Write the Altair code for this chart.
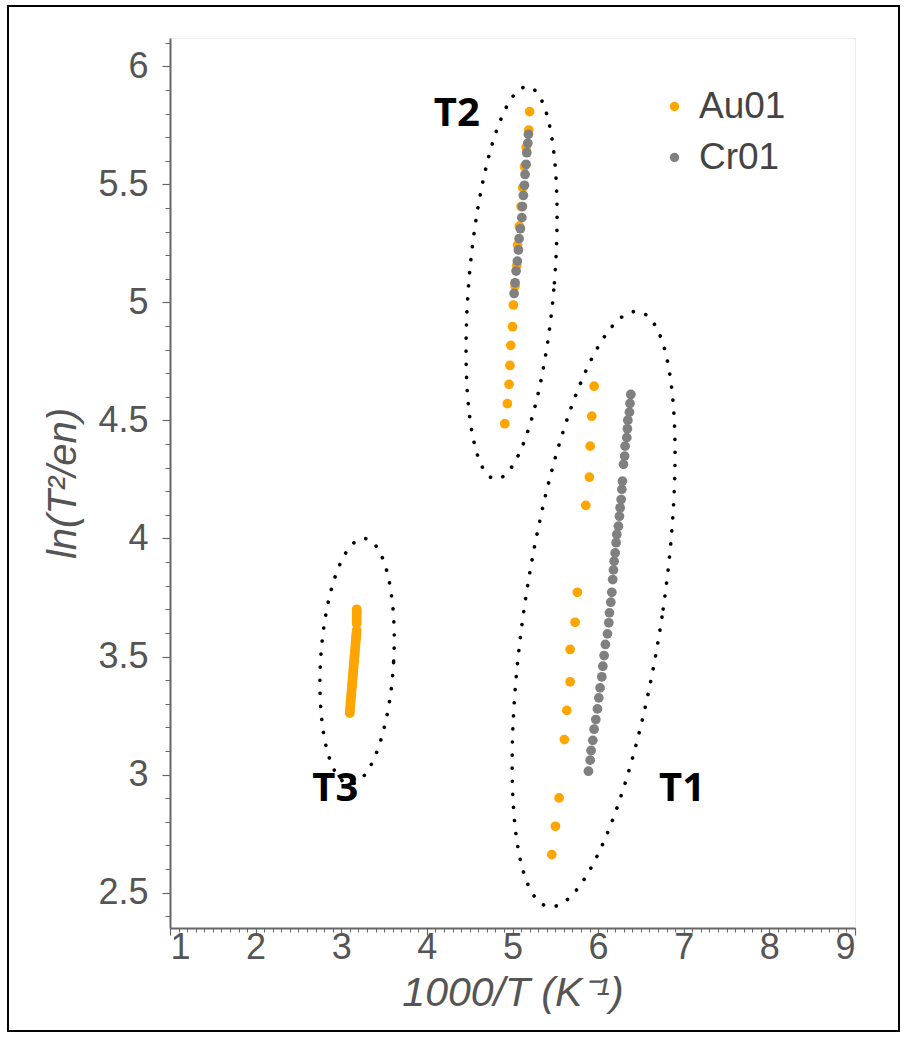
import altair as alt
import pandas as pd
import numpy as np

# ---------------- data ----------------
# Au01 (orange)
au_t2_x = [5.20, 5.19, 5.16, 5.14, 5.12, 5.10, 5.08, 5.06, 5.05, 5.03, 5.01, 5.00, 4.98, 4.97, 4.96, 4.94, 4.91]
au_t2_y = [5.808, 5.730, 5.656, 5.575, 5.486, 5.406, 5.323, 5.243, 5.157, 5.069, 4.989, 4.897, 4.818, 4.733, 4.653, 4.571, 4.486]

au_t1_x = [5.953, 5.926, 5.907, 5.898, 5.856, 5.758, 5.731, 5.673, 5.673, 5.634, 5.606, 5.544, 5.501, 5.459]
au_t1_y = [4.645, 4.518, 4.391, 4.260, 4.140, 3.772, 3.645, 3.530, 3.393, 3.272, 3.148, 2.901, 2.781, 2.661]

au_t3_x = [3.181, 3.181, 3.180, 3.180, 3.180, 3.180, 3.180,
           3.180, 3.178, 3.175, 3.173, 3.171, 3.168, 3.166, 3.164, 3.161, 3.159,
           3.157, 3.154, 3.152, 3.150, 3.147, 3.145, 3.143, 3.140, 3.138, 3.136,
           3.133, 3.131, 3.129, 3.126, 3.124, 3.122, 3.119, 3.117, 3.115, 3.112,
           3.110, 3.108, 3.105, 3.103, 3.101, 3.100]
au_t3_y = [3.70, 3.69, 3.68, 3.67, 3.66, 3.65, 3.64,
           3.61, 3.60, 3.59, 3.58, 3.57, 3.56, 3.55, 3.54, 3.53, 3.52,
           3.51, 3.50, 3.49, 3.48, 3.47, 3.46, 3.45, 3.44, 3.43, 3.42,
           3.41, 3.40, 3.39, 3.38, 3.37, 3.36, 3.35, 3.34, 3.33, 3.32,
           3.31, 3.30, 3.29, 3.28, 3.27, 3.26]

# Cr01 (grey)
cr_t2_x = [5.186, 5.179, 5.167, 5.159, 5.147, 5.139, 5.127, 5.116, 5.109, 5.092, 5.077, 5.069, 5.057, 5.042, 5.030, 5.019]
cr_t2_y = [5.712, 5.674, 5.634, 5.585, 5.542, 5.496, 5.453, 5.406, 5.359, 5.312, 5.270, 5.222, 5.175, 5.133, 5.083, 5.038]

cr_t1_x = [6.382, 6.372, 6.366, 6.347, 6.342, 6.335, 6.315, 6.310, 6.296,
           6.284, 6.277, 6.269, 6.257, 6.249, 6.237, 6.218, 6.210, 6.199, 6.187, 6.179, 6.170,
           6.160, 6.148, 6.132, 6.125, 6.109, 6.085, 6.070, 6.055, 6.043, 6.023,
           6.008, 5.992, 5.973, 5.953, 5.938, 5.918, 5.907, 5.887]
cr_t1_y = [4.610, 4.572, 4.535, 4.501, 4.465, 4.427, 4.391, 4.349, 4.314,
           4.243, 4.208, 4.165, 4.130, 4.094, 4.052, 4.017, 3.982, 3.939, 3.904, 3.867, 3.826,
           3.772, 3.730, 3.685, 3.643, 3.596, 3.551, 3.504, 3.459, 3.414, 3.367,
           3.325, 3.278, 3.233, 3.192, 3.145, 3.102, 3.061, 3.014]

series_names = ["Au01", "Cr01"]
series_colors = ["#FFA500", "#808080"]

# group annotations
group_labels = ["T2", "T1", "T3"]
group_label_x = [4.35, 6.98, 2.93]
group_label_y = [5.80, 2.94, 2.94]

# dotted ellipses: centre, half-widths and shear (data units)
ell_names = ["T1", "T2", "T3"]
ell_cx = [5.947, 4.989, 3.185]
ell_cy = [3.701, 5.083, 3.480]
ell_rx = [0.812, 0.500, 0.427]
ell_ry = [1.261, 0.831, 0.520]
ell_sx = [0.496, 0.181, 0.078]

x_ticks = [1, 2, 3, 4, 5, 6, 7, 8, 9]
y_ticks = [2.5, 3, 3.5, 4, 4.5, 5, 5.5, 6]
x_minor = [round(1 + 0.1 * i, 2) for i in range(81)]
y_minor = [round(2.4 + 0.1 * i, 2) for i in range(38)]

# ---------------- tables ----------------
rows = []
for xs, ys in [(au_t2_x, au_t2_y), (au_t1_x, au_t1_y), (au_t3_x, au_t3_y)]:
    rows += [{"x": a, "y": b, "series": "Au01"} for a, b in zip(xs, ys)]
for xs, ys in [(cr_t2_x, cr_t2_y), (cr_t1_x, cr_t1_y)]:
    rows += [{"x": a, "y": b, "series": "Cr01"} for a, b in zip(xs, ys)]
pts = pd.DataFrame(rows)
pts["order"] = range(len(pts))

ell_rows = []
tt = np.linspace(0, 2 * np.pi, 241)
for n, cx, cy, rx, ry, sx in zip(ell_names, ell_cx, ell_cy, ell_rx, ell_ry, ell_sx):
    for i, t in enumerate(tt):
        ell_rows.append({"name": n, "i": i,
                         "x": cx + rx * np.cos(t) + sx * np.sin(t),
                         "y": cy + ry * np.sin(t)})
ell = pd.DataFrame(ell_rows)

lab = pd.DataFrame({"label": group_labels, "x": group_label_x, "y": group_label_y})

# ---------------- chart ----------------
FONT = "Liberation Sans"
xscale = alt.Scale(domain=[1, 9], nice=False, zero=False)
yscale = alt.Scale(domain=[2.35, 6.12], nice=False, zero=False)

axis_common = dict(domainColor="#666666", domainWidth=2, tickColor="#666666", tickWidth=1.2,
                   labelFont=FONT, labelFontSize=36, labelColor="#555555",
                   titleFont=FONT, titleFontStyle="italic",
                   titleFontWeight="normal", titleColor="#555555", grid=False)

points = alt.Chart(pts).mark_circle(size=95, opacity=1).encode(
    x=alt.X("x:Q", scale=xscale,
            axis=alt.Axis(values=x_ticks, format="~g", tickSize=7, labelPadding=-5,
                          orient="bottom", titleFontSize=41,
                          title="1000/T (K\u207b\u00b9)", titlePadding=8, **axis_common)),
    y=alt.Y("y:Q", scale=yscale,
            axis=alt.Axis(values=y_ticks, format="~g", tickSize=8, labelPadding=14,
                          orient="left", titleFontSize=40,
                          title="ln(T\u00b2/en)", titlePadding=14, **axis_common)),
    color=alt.Color("series:N",
                    scale=alt.Scale(domain=series_names, range=series_colors),
                    legend=alt.Legend(title=None, orient="none", legendX=478, legendY=42,
                                      labelFont=FONT, labelFontSize=37, labelColor="#444444",
                                      symbolType="circle", symbolSize=90, symbolStrokeWidth=0,
                                      labelOffset=6, rowPadding=13, fillColor="white",
                                      padding=8)),
    order=alt.Order("order:Q"),
)

minor = alt.Chart(ell).mark_line(opacity=0).encode(
    x=alt.X("x:Q", scale=xscale,
            axis=alt.Axis(values=x_minor, labels=False, domain=False, tickSize=4,
                          tickColor="#666666", title=None, grid=False, orient="bottom")),
    y=alt.Y("y:Q", scale=yscale,
            axis=alt.Axis(values=y_minor, labels=False, domain=False, tickSize=5,
                          tickColor="#666666", title=None, grid=False, orient="left")),
    detail="name:N",
)

ellipses = alt.Chart(ell).mark_line(color="black", strokeWidth=3.6, strokeCap="round",
                                    strokeDash=[0.1, 13]).encode(
    x=alt.X("x:Q", scale=xscale, axis=None),
    y=alt.Y("y:Q", scale=yscale, axis=None),
    detail="name:N",
    order="i:Q",
)

labels = alt.Chart(lab).mark_text(font="Open Sans", fontSize=40, fontWeight="bold",
                                  color="black").encode(
    x=alt.X("x:Q", scale=xscale, axis=None),
    y=alt.Y("y:Q", scale=yscale, axis=None),
    text="label:N",
)

frame = alt.Chart(lab).mark_rect(fill=None, stroke="black", strokeWidth=1.5).encode(
    x=alt.value(-162), x2=alt.value(729), y=alt.value(-32), y2=alt.value(993)
)

chart = alt.layer(minor, ellipses, points, labels, frame).resolve_axis(
    x="independent", y="independent"
).properties(
    width=685, height=890,
    padding={"left": 170, "top": 38, "right": 51, "bottom": 113},
    autosize=alt.AutoSizeParams(type="none"),
).configure_view(stroke="#eeeeee", strokeWidth=1)

chart.save("out.html", embed_options={"renderer": "svg", "actions": False})
